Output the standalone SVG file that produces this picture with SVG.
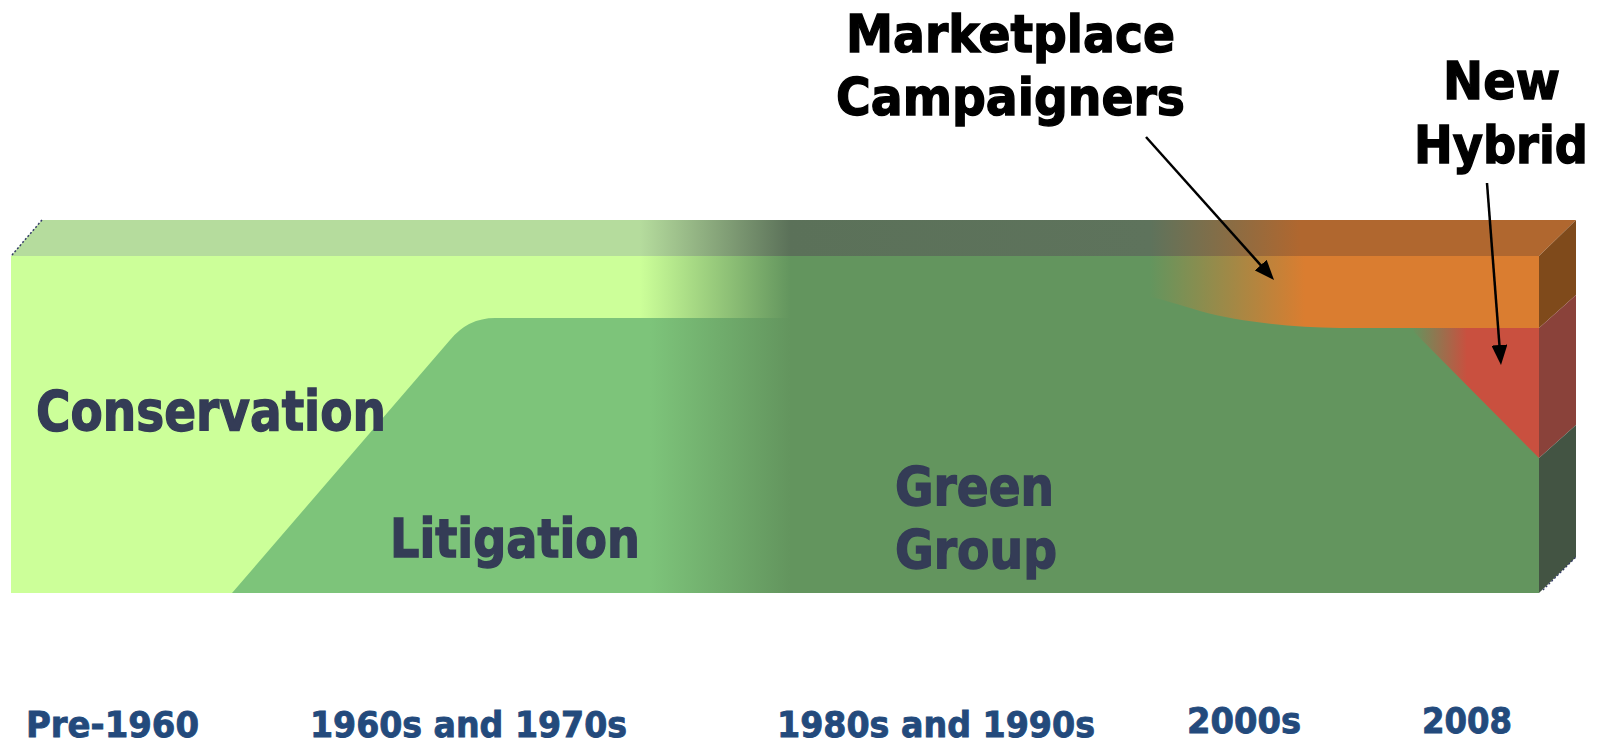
<svg xmlns="http://www.w3.org/2000/svg" width="1604" height="742" viewBox="0 0 1604 742">
<style>
.lbl{font-family:"DejaVu Sans","Liberation Sans",sans-serif;font-weight:bold;fill:#343c56;stroke:#343c56;stroke-width:1.4px}
.call{font-family:"DejaVu Sans","Liberation Sans",sans-serif;font-weight:bold;fill:#000;stroke:#000;stroke-width:1.4px}
.time{font-family:"DejaVu Sans","Liberation Sans",sans-serif;font-weight:bold;fill:#234a7c;stroke:#234a7c;stroke-width:0.9px;font-size:36px}
.arrow{stroke:#000;stroke-width:2.5;fill:none;marker-end:url(#ah)}
</style>
<defs>
<marker id="ah" markerUnits="strokeWidth" markerWidth="8" markerHeight="6.4" refX="6" refY="3.2" orient="auto">
<path d="M0,0 L8,3.2 L0,6.4 Z" fill="#000"/>
</marker>
<linearGradient id="gTop" gradientUnits="userSpaceOnUse" x1="0" y1="0" x2="1604" y2="0">
<stop offset="0.399" stop-color="#b5dc9d"/>
<stop offset="0.4925" stop-color="#5b7159"/>
<stop offset="0.717" stop-color="#5e735c"/>
<stop offset="0.8105" stop-color="#b0672f"/>
</linearGradient>
<linearGradient id="gCons" gradientUnits="userSpaceOnUse" x1="640" y1="0" x2="790" y2="0">
<stop offset="0" stop-color="#ccff99"/>
<stop offset="1" stop-color="#63955e"/>
</linearGradient>
<linearGradient id="gLit" gradientUnits="userSpaceOnUse" x1="650" y1="0" x2="790" y2="0">
<stop offset="0" stop-color="#7dc47a"/>
<stop offset="1" stop-color="#63955e"/>
</linearGradient>
<linearGradient id="gOr" gradientUnits="userSpaceOnUse" x1="1150" y1="0" x2="1305" y2="0">
<stop offset="0" stop-color="#63955e"/>
<stop offset="1" stop-color="#da7d30"/>
</linearGradient>
<linearGradient id="gRed" gradientUnits="userSpaceOnUse" x1="1412" y1="0" x2="1467" y2="0">
<stop offset="0" stop-color="#63955e"/>
<stop offset="1" stop-color="#c9503f"/>
</linearGradient>
</defs>
<rect width="1604" height="742" fill="#fff"/>
<g id="block">
<polygon points="11,256 42,220 1576,220 1539,256" fill="url(#gTop)"/>
<rect x="11" y="256" width="1528" height="337" fill="#63955e"/>
<rect x="11" y="256" width="780" height="337" fill="url(#gCons)"/>
<path d="M232,593 L450,340 Q468,318 495,318 L791,318 L791,593 Z" fill="url(#gLit)"/>
<path d="M1150,256 L1539,256 L1539,328 L1340,328 C1290,327 1240,322 1200,311 C1180,305 1165,300 1150,297 Z" fill="url(#gOr)"/>
<path d="M1410,328 L1539,328 L1539,458 Z" fill="url(#gRed)"/>
<polygon points="1539,256 1576,220 1576,295 1539,328" fill="#7f4a1b"/>
<polygon points="1539,328 1576,295 1576,425 1539,458" fill="#8a423a"/>
<polygon points="1539,458 1576,425 1576,557 1539,593" fill="#435443"/>
<line x1="12" y1="255" x2="42" y2="220" stroke="#333a66" stroke-width="1.5" stroke-dasharray="2 2"/>
<line x1="1543" y1="590" x2="1576" y2="557" stroke="#333a66" stroke-width="1.2" stroke-dasharray="2 2"/>
</g>
<g id="conservation"><text class="lbl" x="36" y="430" font-size="55" textLength="350" lengthAdjust="spacingAndGlyphs">Conservation</text></g>
<g id="litigation"><text class="lbl" x="390" y="557" font-size="54" textLength="250" lengthAdjust="spacingAndGlyphs">Litigation</text></g>
<g id="green-group">
<text class="lbl" x="895" y="505" font-size="53" textLength="159" lengthAdjust="spacingAndGlyphs">Green</text>
<text class="lbl" x="895" y="568" font-size="53" textLength="162" lengthAdjust="spacingAndGlyphs">Group</text>
</g>
<g id="marketplace">
<text class="call" x="846" y="52" font-size="51" textLength="329" lengthAdjust="spacingAndGlyphs">Marketplace</text>
<text class="call" x="836" y="115" font-size="51" textLength="349" lengthAdjust="spacingAndGlyphs">Campaigners</text>
</g>
<g id="new-hybrid">
<text class="call" x="1443" y="99" font-size="51" textLength="117" lengthAdjust="spacingAndGlyphs">New</text>
<text class="call" x="1414" y="163" font-size="51" textLength="174" lengthAdjust="spacingAndGlyphs">Hybrid</text>
</g>
<g id="timeline">
<text class="time" x="26" y="737" textLength="173" lengthAdjust="spacingAndGlyphs">Pre-1960</text>
<text class="time" x="310" y="737" textLength="317" lengthAdjust="spacingAndGlyphs">1960s and 1970s</text>
<text class="time" x="777" y="737" textLength="318" lengthAdjust="spacingAndGlyphs">1980s and 1990s</text>
<text class="time" x="1187" y="733" textLength="114" lengthAdjust="spacingAndGlyphs">2000s</text>
<text class="time" x="1422" y="733" textLength="90" lengthAdjust="spacingAndGlyphs">2008</text>
</g>
<g id="connectors">
<line class="arrow" x1="1146" y1="137" x2="1270.7" y2="276.3"/>
<line class="arrow" x1="1487" y1="183" x2="1500.6" y2="360"/>
</g>
</svg>
